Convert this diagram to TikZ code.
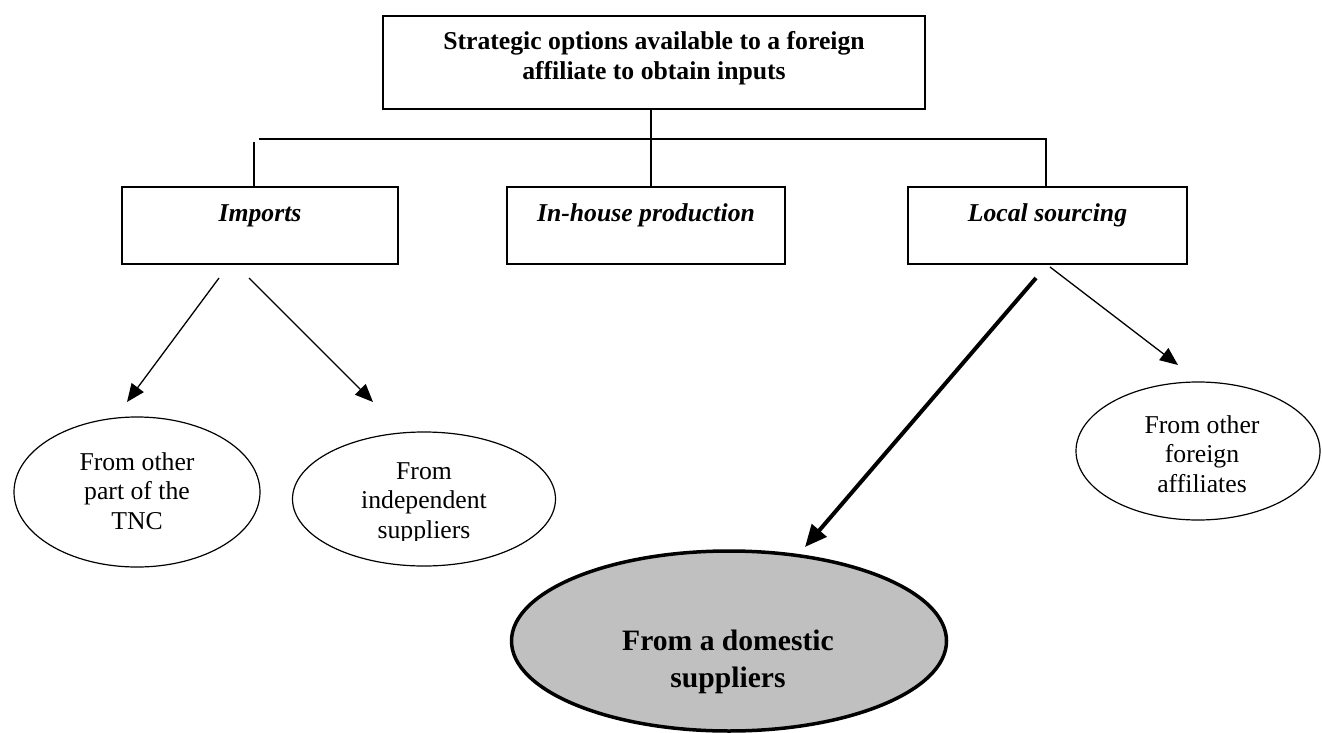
\documentclass[tikz,border=0pt]{standalone}
\usepackage{fontspec}
\setmainfont{Liberation Serif}
\usetikzlibrary{shapes.geometric,arrows.meta}
\begin{document}
\begin{tikzpicture}[x=1pt,y=-1pt,
  box/.style={draw, line width=2pt, inner sep=0pt, align=center,
    font=\fontsize{25.7}{30}\selectfont\bfseries},
  ibox/.style={box, font=\fontsize{25.7}{30}\selectfont\bfseries\itshape,
    text height=34pt, text depth=43pt, minimum height=77pt, anchor=north},
  ov/.style={draw, ellipse, line width=1.2pt, inner sep=0pt},
  lbl/.style={align=center, inner sep=0pt, font=\fontsize{25.7}{29.5}\selectfont},
  con/.style={line width=1.3pt},
  arr/.style={line width=1.3pt, -{Triangle[length=18pt,width=15pt]}},
  bigarr/.style={line width=4pt, -{Triangle[length=22pt,width=19pt]}}]
\useasboundingbox (0,0) rectangle (1322,733);

% boxes
\node[box, text height=64pt, text depth=29pt, minimum width=542pt, anchor=north]
  (top) at (654,15) {Strategic options available to a foreign\\affiliate to obtain inputs};
\node[ibox, minimum width=276pt] (imp) at (260,186) {Imports};
\node[ibox, minimum width=278pt] (inh) at (646,186) {In-house production};
\node[ibox, minimum width=279pt] (loc) at (1047.5,186) {Local sourcing};

% tree connectors
\coordinate (hub) at (651,139);
\coordinate (hl) at (259,139);
\coordinate (hr) at (1047,139);
\coordinate (vl) at (254,142);
\draw[con] (top.south -| hub) -- (hub);
\draw[con] (hl) -- (hr);
\draw[con] (vl) -- (imp.north -| vl);
\draw[con] (hub) -- (inh.north -| hub);
\draw[con] (1046,139) -- (loc.north -| 1046,0);

% ellipses
\node[ov, minimum width=246pt, minimum height=150pt] (e1) at (137,492) {};
\node[ov, minimum width=263pt, minimum height=134pt] (e2) at (424,499) {};
\node[ov, minimum width=244pt, minimum height=138pt] (e3) at (1198,451) {};
\node[ov, line width=3.5pt, fill={rgb,255:red,192;green,192;blue,192},
  minimum width=435pt, minimum height=180pt] (e4) at (729,641) {};

% ellipse texts
\node[lbl] (t1) at (137,491) {From other\\part of the\\TNC};
\begin{scope}
  \clip (290,440) rectangle (560,540);
  \node[lbl] (t2) at (424,503) {From\\independent\\suppliers};
\end{scope}
\node[lbl] (t3) at (1202,454) {From other\\foreign\\affiliates};
\node[lbl, font=\fontsize{29.6}{37}\selectfont\bfseries] (t4) at (728,662)
  {From a domestic\\suppliers};

% arrows
\coordinate (a1s) at (219,278); \coordinate (a1e) at (127,402);
\coordinate (a2s) at (249,278); \coordinate (a2e) at (373,402);
\coordinate (a3s) at (1036,278); \coordinate (a3e) at (805,547);
\coordinate (a4s) at (1050,267); \coordinate (a4e) at (1178,365);
\draw[arr] (a1s) -- (a1e);
\draw[arr] (a2s) -- (a2e);
\draw[bigarr] (a3s) -- (a3e);
\draw[arr] (a4s) -- (a4e);
\end{tikzpicture}
\end{document}
